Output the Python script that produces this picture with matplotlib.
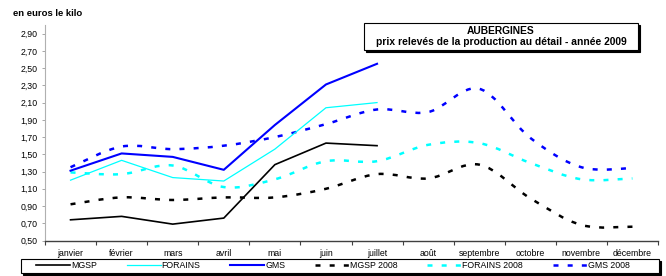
import numpy as np
import matplotlib
matplotlib.use("Agg")
import matplotlib.pyplot as plt
from matplotlib.path import Path
from matplotlib.patches import PathPatch, Rectangle
from matplotlib.lines import Line2D

plt.rcParams['font.family'] = ['Liberation Sans', 'DejaVu Sans']
plt.rcParams['lines.scale_dashes'] = False

# --- données ---
mois = ["janvier", "février", "mars", "avril", "mai", "juin", "juillet",
        "août", "septembre", "octobre", "novembre", "décembre"]

mgsp_2009 = [0.74, 0.78, 0.69, 0.76, 1.38, 1.63, 1.60]
forains_2009 = [1.20, 1.43, 1.23, 1.19, 1.56, 2.04, 2.10]
gms_2009 = [1.31, 1.51, 1.47, 1.32, 1.84, 2.31, 2.55]

mgsp_2008 = [0.92, 1.00, 0.97, 1.00, 1.00, 1.10, 1.27, 1.22, 1.38, 0.99, 0.68, 0.66]
forains_2008 = [1.29, 1.27, 1.37, 1.12, 1.21, 1.42, 1.42, 1.61, 1.63, 1.40, 1.21, 1.22]
gms_2008 = [1.35, 1.59, 1.56, 1.60, 1.70, 1.85, 2.02, 1.99, 2.26, 1.69, 1.35, 1.34]

yticks = np.arange(0.5, 2.95, 0.2)

C_BLACK = "#000000"
C_CYAN = "#00FFFF"
C_BLUE = "#0000FF"
DASH = (0, (3.6, 6.6))
FS = 6.3


def courbe_lissee(ax, xs, ys, color, lw):
    # ligne lissée façon tableur (Bézier type Catmull-Rom)
    pts = np.column_stack([xs, ys]).astype(float)
    verts = [pts[0]]
    codes = [Path.MOVETO]
    n = len(pts)
    for i in range(n - 1):
        p0 = pts[max(i - 1, 0)]
        p1 = pts[i]
        p2 = pts[i + 1]
        p3 = pts[min(i + 2, n - 1)]
        c1 = p1 + (p2 - p0) / 6.0
        c2 = p2 - (p3 - p1) / 6.0
        verts += [c1, c2, p2]
        codes += [Path.CURVE4] * 3
    patch = PathPatch(Path(verts, codes), facecolor="none", edgecolor=color,
                      lw=lw, linestyle=DASH, capstyle="butt", zorder=2)
    ax.add_patch(patch)


fig = plt.figure(figsize=(6.66, 2.76), dpi=100)
ax = fig.add_axes([45 / 666, 35.5 / 276, 613 / 666, 215.5 / 276])

x = np.arange(len(mois))

courbe_lissee(ax, x, mgsp_2008, C_BLACK, 1.8)
courbe_lissee(ax, x, forains_2008, C_CYAN, 1.8)
courbe_lissee(ax, x, gms_2008, C_BLUE, 1.8)

ax.plot(x[:len(mgsp_2009)], mgsp_2009, color=C_BLACK, lw=1.2, zorder=3)
ax.plot(x[:len(forains_2009)], forains_2009, color=C_CYAN, lw=0.9, zorder=3)
ax.plot(x[:len(gms_2009)], gms_2009, color=C_BLUE, lw=1.5, zorder=3)

ax.set_xlim(-0.5, len(mois) - 0.5)
ax.set_ylim(0.5, 3.0)
ax.set_yticks(yticks)
ax.set_yticklabels(["{:.2f}".format(v).replace(".", ",") for v in yticks])
ax.set_xticks(np.arange(len(mois) + 1) - 0.5)
ax.set_xticklabels([])
ax.set_xticks(x, minor=True)
ax.set_xticklabels(mois, minor=True)
ax.tick_params(axis="x", which="major", length=3, width=0.8, color="#404040")
ax.tick_params(axis="x", which="minor", length=0, pad=6, labelsize=FS)
ax.tick_params(axis="y", length=2.5, width=0.6, color="#999999", labelsize=FS, pad=3)

for s in ["top", "right"]:
    ax.spines[s].set_visible(False)
ax.spines["left"].set_color("#b0b0b0")
ax.spines["left"].set_linewidth(0.8)
ax.spines["bottom"].set_color("#404040")
ax.spines["bottom"].set_linewidth(1.0)

fig.text(13 / 666, 1 - 13 / 276, "en euros le kilo", fontsize=6.8,
         fontweight="bold", va="center", ha="left")

# cadre du titre avec ombre
fig.add_artist(Rectangle((366 / 666, 1 - 52 / 276), 274 / 666, 27 / 276,
                         transform=fig.transFigure, facecolor="black",
                         edgecolor="black", lw=0.8, zorder=5))
fig.add_artist(Rectangle((364 / 666, 1 - 50 / 276), 274 / 666, 27 / 276,
                         transform=fig.transFigure, facecolor="white",
                         edgecolor="black", lw=0.8, zorder=6))
fig.text(501 / 666, 1 - 31 / 276, "AUBERGINES", fontsize=7.4, fontweight="bold",
         ha="center", va="center", zorder=7)
fig.text(501 / 666, 1 - 42 / 276,
         "prix relevés de la production au détail - année 2009",
         fontsize=7.4, fontweight="bold", ha="center", va="center", zorder=7)

# légende
handles = [
    Line2D([], [], color=C_BLACK, lw=1.2),
    Line2D([], [], color=C_CYAN, lw=0.9),
    Line2D([], [], color=C_BLUE, lw=1.5),
    Line2D([], [], color=C_BLACK, lw=1.8, linestyle=DASH),
    Line2D([], [], color=C_CYAN, lw=1.8, linestyle=DASH),
    Line2D([], [], color=C_BLUE, lw=1.8, linestyle=DASH),
]
labels = ["MGSP", "FORAINS", "GMS", "MGSP 2008", "FORAINS 2008", "GMS 2008"]

fig.add_artist(Rectangle((23 / 666, 1 - 275 / 276), 638 / 666, 14 / 276,
                         transform=fig.transFigure, facecolor="black",
                         edgecolor="black", lw=0.8, zorder=5))
fig.add_artist(Rectangle((21 / 666, 1 - 273 / 276), 638 / 666, 14 / 276,
                         transform=fig.transFigure, facecolor="white",
                         edgecolor="black", lw=0.8, zorder=6))
leg = fig.legend(handles, labels, loc="center left", ncol=6,
                 bbox_to_anchor=(36 / 666, 1 - 266 / 276), frameon=False,
                 fontsize=FS, handlelength=3.9, handletextpad=0.1,
                 columnspacing=3.4, borderpad=0, borderaxespad=0)
leg.set_zorder(7)

fig.savefig("out.png", dpi=100)
